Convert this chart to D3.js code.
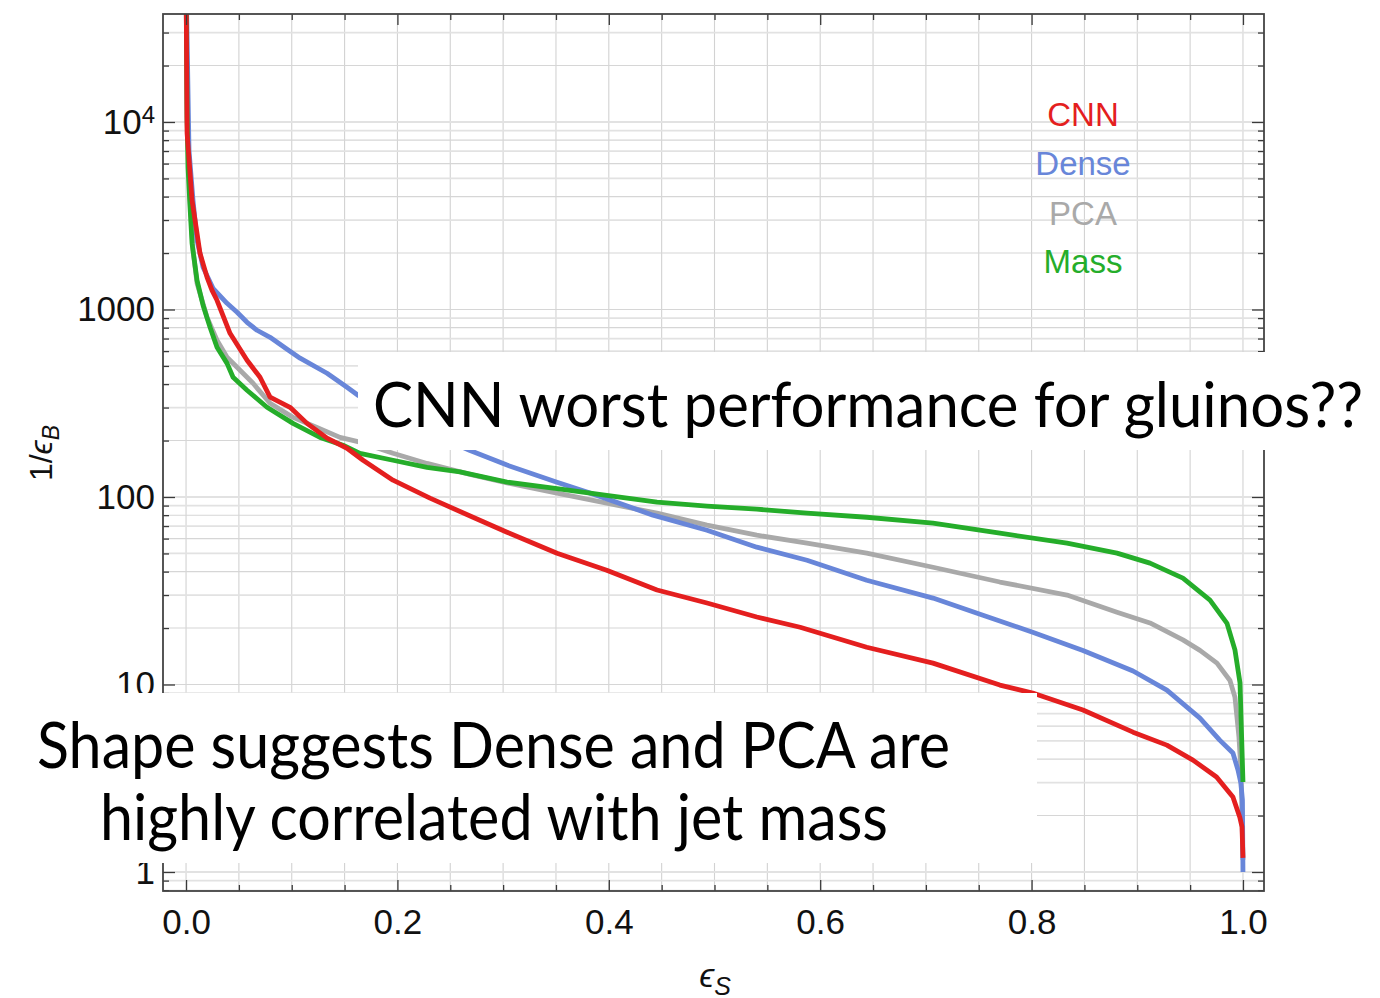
<!DOCTYPE html>
<html>
<head>
<meta charset="utf-8">
<script src="https://cdn.jsdelivr.net/npm/d3@7"></script>
<style>
  html, body { margin: 0; padding: 0; background: #ffffff; }
  svg { display: block; }
</style>
</head>
<body>
<svg id="chart" width="1380" height="998"></svg>
<script>
// ROC-style curves: signal efficiency vs. background rejection (1/eps_B)
const cnnS = [0.0, 0.001, 0.0057, 0.0104, 0.0132, 0.0199, 0.0246, 0.0293, 0.0416, 0.0577, 0.070, 0.0795, 0.0984, 0.1145, 0.1334, 0.1523, 0.1675, 0.1958, 0.2308, 0.2715, 0.3037, 0.351, 0.398, 0.4456, 0.4929, 0.540, 0.581, 0.644, 0.7067, 0.770, 0.801, 0.8486, 0.896, 0.928, 0.9527, 0.975, 0.9905, 0.997, 0.9991, 1.0];
const cnnB = [60000, 8690, 3820, 2550, 1995, 1485, 1265, 1120, 747, 536, 435, 341, 301, 247, 206, 182, 157, 123, 98.6, 78.0, 64.9, 50.1, 40.7, 31.9, 27.2, 22.9, 20.2, 15.8, 13.0, 9.93, 9.0, 7.31, 5.57, 4.75, 3.95, 3.21, 2.51, 1.96, 1.74, 1.19];

const denseS = [0.0, 0.0028, 0.0066, 0.0104, 0.0161, 0.0255, 0.0388, 0.0483, 0.0577, 0.0672, 0.0795, 0.0956, 0.1079, 0.1334, 0.1523, 0.1627, 0.212, 0.2403, 0.2687, 0.3037, 0.351, 0.3888, 0.4418, 0.4929, 0.540, 0.5875, 0.644, 0.7067, 0.754, 0.801, 0.8486, 0.896, 0.928, 0.9593, 0.978, 0.9905, 0.9953, 0.998, 0.9995, 1.0];
const denseB = [60000, 7060, 3820, 2340, 1679, 1298, 1079, 966, 855, 775, 711, 614, 550, 457, 385, 349, 257, 208, 177, 148, 120, 102, 80, 66.5, 54.0, 46.0, 36.0, 28.9, 23.4, 19.0, 15.2, 11.8, 9.34, 6.62, 5.05, 4.31, 3.50, 2.98, 2.42, 1.0];

const pcaS = [0.0, 0.001, 0.0038, 0.0066, 0.0104, 0.0199, 0.0293, 0.0388, 0.0511, 0.0634, 0.0795, 0.1012, 0.1239, 0.1457, 0.1646, 0.1958, 0.228, 0.2687, 0.3037, 0.351, 0.398, 0.4456, 0.4929, 0.540, 0.5875, 0.644, 0.7067, 0.770, 0.8335, 0.8808, 0.912, 0.9432, 0.9593, 0.9754, 0.9877, 0.9924, 0.9943, 0.9962, 0.9981, 1.0];
const pcaB = [60000, 10190, 3820, 2070, 1380, 908, 685, 556, 474, 404, 316, 266, 235, 208, 196, 171, 151, 132, 119, 105, 92.7, 82.0, 70.8, 62.6, 56.7, 50.2, 42.2, 35.2, 30.0, 24.3, 21.3, 17.3, 15.2, 13.0, 10.5, 8.57, 6.70, 5.24, 3.50, 1.16];

const massS = [0.0, 0.001, 0.0019, 0.0038, 0.0057, 0.0104, 0.0161, 0.0227, 0.0293, 0.0388, 0.0445, 0.0577, 0.0766, 0.1012, 0.1268, 0.1485, 0.1646, 0.1958, 0.228, 0.2592, 0.3037, 0.351, 0.398, 0.4456, 0.4929, 0.540, 0.5875, 0.644, 0.7067, 0.770, 0.8335, 0.8808, 0.912, 0.9432, 0.9688, 0.9849, 0.9924, 0.9972, 1.0];
const massB = [60000, 10590, 5730, 3510, 2250, 1430, 1053, 804, 629, 516, 435, 371, 301, 247, 208, 189, 171, 157, 144, 136, 120, 111, 102, 93.8, 89.3, 86.1, 82.0, 78.0, 72.5, 64.1, 56.7, 50.2, 44.4, 36.9, 28.2, 21.2, 15.3, 10.2, 3.02];

const seriesNames  = ["CNN", "Dense", "PCA", "Mass"];
const seriesColors = ["#e41f1f", "#6886d9", "#a9a9a9", "#25ad2a"];

const xTickValues  = [0, 0.2, 0.4, 0.6, 0.8, 1.0];
const xTickLabels  = ["0.0", "0.2", "0.4", "0.6", "0.8", "1.0"];
const xMinorValues = [0.05, 0.1, 0.15, 0.25, 0.3, 0.35, 0.45, 0.5, 0.55, 0.65, 0.7, 0.75, 0.85, 0.9, 0.95];
const yTickValues  = [1, 10, 100, 1000, 10000];
const yTickLabels  = ["1", "10", "100", "1000", "10^4"];
const yMinorMult   = [2, 3, 4, 5, 6, 7, 8, 9];
const yDecades     = [0.1, 1, 10, 100, 1000, 10000];

const noteTop    = "CNN worst performance for gluinos??";
const noteBottom = ["Shape suggests Dense and PCA are", "highly correlated with jet mass"];

// ---- layout ----
const W = 1380, H = 998;
const plot = { left: 163, right: 1264, top: 14, bottom: 891 };

const x = d3.scaleLinear().domain([-0.0218, 1.0199]).range([plot.left, plot.right]);
const y = d3.scaleLog().domain([0.792, 37670]).range([plot.bottom, plot.top]);

const svg = d3.select("#chart");
const labelFont = "'Liberation Sans', Arial, Helvetica, sans-serif";
const noteFont = "Lato, 'Open Sans', sans-serif";

svg.append("defs").append("clipPath").attr("id", "plotClip")
  .append("rect")
  .attr("x", plot.left).attr("y", plot.top)
  .attr("width", plot.right - plot.left).attr("height", plot.bottom - plot.top);

// minor y values inside the visible range
const yMinorValues = [];
yDecades.forEach(d => yMinorMult.forEach(m => {
  const v = d * m;
  if (v > y.domain()[0] && v < y.domain()[1]) yMinorValues.push(v);
}));

// ---- grid ----
const grid = svg.append("g").attr("clip-path", "url(#plotClip)");
const xGridVals = xTickValues.concat(xMinorValues);
grid.selectAll("line.vg").data(xGridVals).join("line")
  .attr("class", "vg")
  .attr("x1", d => x(d)).attr("x2", d => x(d))
  .attr("y1", plot.top).attr("y2", plot.bottom)
  .attr("stroke", "#d2d2d2").attr("stroke-width", 1.1);
grid.selectAll("line.hg").data(yTickValues.concat(yMinorValues)).join("line")
  .attr("class", "hg")
  .attr("x1", plot.left).attr("x2", plot.right)
  .attr("y1", d => y(d)).attr("y2", d => y(d))
  .attr("stroke", (d, i) => (i % 2 ? "#d6d6d6" : "#e2e2e2"))
  .attr("stroke-width", (d, i) => (i % 2 ? 1.1 : 1.8));

// ---- curves ----
const series = [
  { name: "PCA",   s: pcaS,   b: pcaB,   color: seriesColors[2] },
  { name: "Dense", s: denseS, b: denseB, color: seriesColors[1] },
  { name: "Mass",  s: massS,  b: massB,  color: seriesColors[3] },
  { name: "CNN",   s: cnnS,   b: cnnB,   color: seriesColors[0] }
];
const line = d3.line().x(d => x(d[0])).y(d => y(d[1]));
const curves = svg.append("g").attr("clip-path", "url(#plotClip)");
series.forEach(sr => {
  const pts = sr.s.map((v, i) => [v, sr.b[i]]);
  curves.append("path")
    .datum(pts)
    .attr("d", line)
    .attr("fill", "none")
    .attr("stroke", sr.color)
    .attr("stroke-width", 4.8)
    .attr("stroke-linejoin", "round");
});

// ---- frame & ticks ----
function styleAxis(g) {
  g.select(".domain").remove();
  g.selectAll(".tick line").attr("stroke", "#3a3a3a").attr("stroke-width", 1.3);
  g.selectAll("text").attr("font-family", labelFont).attr("font-size", 35).attr("fill", "#111");
}
// bottom
svg.append("g").attr("transform", `translate(0,${plot.bottom})`)
  .call(d3.axisBottom(x).tickValues(xTickValues).tickFormat((d, i) => xTickLabels[i])
    .tickSizeInner(-11).tickSizeOuter(0).tickPadding(18))
  .call(styleAxis);
svg.append("g").attr("transform", `translate(0,${plot.bottom})`)
  .call(d3.axisBottom(x).tickValues(xMinorValues).tickFormat("").tickSizeInner(-6).tickSizeOuter(0))
  .call(styleAxis);
// top
svg.append("g").attr("transform", `translate(0,${plot.top})`)
  .call(d3.axisTop(x).tickValues(xTickValues).tickFormat("").tickSizeInner(-11).tickSizeOuter(0))
  .call(styleAxis);
svg.append("g").attr("transform", `translate(0,${plot.top})`)
  .call(d3.axisTop(x).tickValues(xMinorValues).tickFormat("").tickSizeInner(-6).tickSizeOuter(0))
  .call(styleAxis);
// left
const leftAxis = svg.append("g").attr("transform", `translate(${plot.left},0)`)
  .call(d3.axisLeft(y).tickValues(yTickValues).tickFormat((d, i) => yTickLabels[i])
    .tickSizeInner(-12).tickSizeOuter(0).tickPadding(8))
  .call(styleAxis);
svg.append("g").attr("transform", `translate(${plot.left},0)`)
  .call(d3.axisLeft(y).tickValues(yMinorValues).tickFormat("").tickSizeInner(-6).tickSizeOuter(0))
  .call(styleAxis);
// right
svg.append("g").attr("transform", `translate(${plot.right},0)`)
  .call(d3.axisRight(y).tickValues(yTickValues).tickFormat("").tickSizeInner(-12).tickSizeOuter(0))
  .call(styleAxis);
svg.append("g").attr("transform", `translate(${plot.right},0)`)
  .call(d3.axisRight(y).tickValues(yMinorValues).tickFormat("").tickSizeInner(-6).tickSizeOuter(0))
  .call(styleAxis);

// power-of-ten label with a superscript
leftAxis.selectAll(".tick text").each(function(d, i) {
  const lab = yTickLabels[i];
  if (lab.indexOf("^") >= 0) {
    const [base, exp] = lab.split("^");
    const t = d3.select(this).text(null);
    t.append("tspan").text(base);
    t.append("tspan").attr("font-size", 24).attr("dy", "-0.45em").text(exp);
  }
});

svg.append("rect")
  .attr("x", plot.left).attr("y", plot.top)
  .attr("width", plot.right - plot.left).attr("height", plot.bottom - plot.top)
  .attr("fill", "none").attr("stroke", "#444").attr("stroke-width", 1.8);

// ---- axis titles ----
const yTitle = svg.append("text")
  .attr("transform", `translate(52,453) rotate(-90)`)
  .attr("text-anchor", "middle")
  .attr("font-family", labelFont).attr("font-size", 32).attr("fill", "#111");
yTitle.append("tspan").text("1/");
yTitle.append("tspan").attr("font-style", "italic").text("\u03F5");
yTitle.append("tspan").attr("font-style", "italic").attr("font-size", 23).attr("dy", "0.3em").text("B");

const xTitle = svg.append("text")
  .attr("x", 715).attr("y", 987)
  .attr("text-anchor", "middle")
  .attr("font-family", labelFont).attr("font-size", 34).attr("fill", "#111");
xTitle.append("tspan").attr("font-style", "italic").text("\u03F5");
xTitle.append("tspan").attr("font-style", "italic").attr("font-size", 25).attr("dy", "0.3em").text("S");

// ---- legend ----
const legendY = [126, 175, 225, 273];
svg.append("g").selectAll("text").data(seriesNames).join("text")
  .attr("x", 1083).attr("y", (d, i) => legendY[i])
  .attr("text-anchor", "middle")
  .attr("font-family", labelFont).attr("font-size", 33)
  .attr("fill", (d, i) => seriesColors[i])
  .text(d => d);

// ---- call-out notes ----
svg.append("rect").attr("x", 358).attr("y", 352).attr("width", W - 358).attr("height", 98).attr("fill", "#fff");
svg.append("text")
  .attr("x", 373).attr("y", 427)
  .attr("font-family", noteFont).attr("font-size", 61).attr("fill", "#000")
  .attr("textLength", 990).attr("lengthAdjust", "spacingAndGlyphs")
  .text(noteTop);

svg.append("rect").attr("x", 0).attr("y", 693).attr("width", 1037).attr("height", 170).attr("fill", "#fff");
svg.append("text")
  .attr("x", 37).attr("y", 768)
  .attr("font-family", noteFont).attr("font-size", 64).attr("fill", "#000")
  .attr("textLength", 913).attr("lengthAdjust", "spacingAndGlyphs")
  .text(noteBottom[0]);
svg.append("text")
  .attr("x", 100).attr("y", 840)
  .attr("font-family", noteFont).attr("font-size", 64).attr("fill", "#000")
  .attr("textLength", 788).attr("lengthAdjust", "spacingAndGlyphs")
  .text(noteBottom[1]);
</script>
</body>
</html>
